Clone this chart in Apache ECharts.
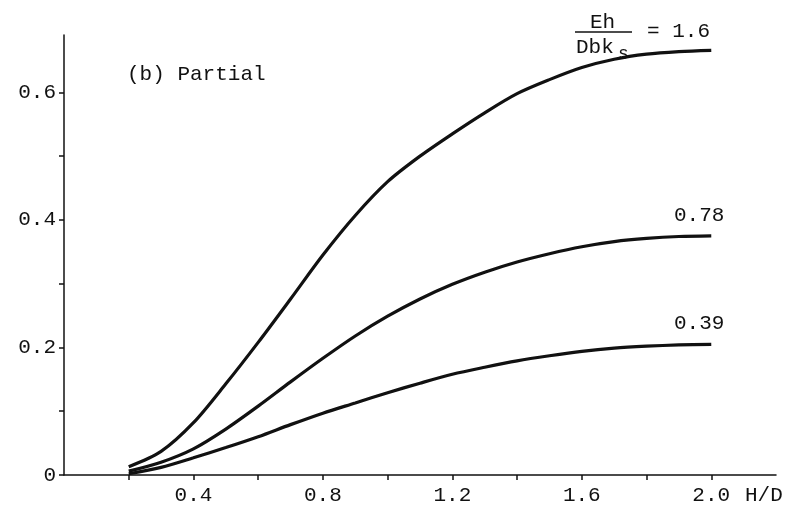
<!DOCTYPE html>
<html>
<head>
<meta charset="utf-8">
<script src="https://cdn.jsdelivr.net/npm/echarts@6/dist/echarts.min.js"></script>
<style>
  html, body { margin: 0; padding: 0; background: #fff; }
  #main { width: 790px; height: 513px; }
</style>
</head>
<body>
<div id="main"></div>
<script>
// H/D values where the curves were read
var hd = [0.2, 0.3, 0.4, 0.5, 0.6, 0.7, 0.8, 0.9, 1.0, 1.1, 1.2, 1.3, 1.4, 1.5, 1.6, 1.7, 1.8, 1.9, 2.0];
// Eh/(Dbks) = 1.6
var curve16 = [0.013, 0.037, 0.082, 0.143, 0.208, 0.276, 0.345, 0.407, 0.460, 0.500, 0.535, 0.568, 0.598, 0.620, 0.639, 0.652, 0.660, 0.664, 0.666];
// Eh/(Dbks) = 0.78
var curve078 = [0.006, 0.020, 0.041, 0.072, 0.108, 0.146, 0.183, 0.218, 0.249, 0.276, 0.299, 0.318, 0.334, 0.347, 0.358, 0.366, 0.371, 0.374, 0.375];
// Eh/(Dbks) = 0.39
var curve039 = [0.002, 0.012, 0.027, 0.043, 0.060, 0.079, 0.097, 0.113, 0.129, 0.144, 0.158, 0.169, 0.179, 0.187, 0.194, 0.199, 0.202, 0.204, 0.205];

var xTicks = [0.2, 0.4, 0.6, 0.8, 1.0, 1.2, 1.4, 1.6, 1.8, 2.0];
var xLabels = [0.4, 0.8, 1.2, 1.6, 2.0];
var yTicks = [0, 0.1, 0.2, 0.3, 0.4, 0.5, 0.6];
var yLabels = [0, 0.2, 0.4, 0.6];

function pairs(ys) {
  return hd.map(function (x, i) { return [x, ys[i]]; });
}

var font = '"Liberation Mono", "DejaVu Sans Mono", monospace';
var ink = '#111';

var chart = echarts.init(document.getElementById('main'));

function lineSeries(ys) {
  return {
    type: 'line',
    data: pairs(ys),
    smooth: 0.3,
    showSymbol: false,
    lineStyle: { color: ink, width: 3.2 }
  };
}

var option = {
  backgroundColor: '#fff',
  animation: false,
  grid: { left: 64, right: 14, top: 35, bottom: 38 },
  xAxis: {
    type: 'value',
    min: 0,
    max: 2.2,
    axisLine: { lineStyle: { color: ink, width: 1.5 } },
    axisTick: { length: 5, lineStyle: { color: ink, width: 1.5 }, customValues: xTicks },
    axisLabel: {
      customValues: xLabels,
      margin: 10,
      color: ink,
      fontFamily: font,
      fontSize: 21,
      formatter: function (v) { return v.toFixed(1); }
    },
    splitLine: { show: false }
  },
  yAxis: {
    type: 'value',
    min: 0,
    max: 0.69,
    axisLine: { show: true, lineStyle: { color: ink, width: 1.5 } },
    axisTick: { show: true, length: 5, lineStyle: { color: ink, width: 1.5 }, customValues: yTicks },
    axisLabel: {
      customValues: yLabels,
      margin: 8,
      color: ink,
      fontFamily: font,
      fontSize: 21,
      formatter: function (v) { return v === 0 ? '0' : v.toFixed(1); }
    },
    splitLine: { show: false }
  },
  series: [lineSeries(curve16), lineSeries(curve078), lineSeries(curve039)],
  graphic: [
    { type: 'text', left: 127, top: 64, style: { text: '(b) Partial', font: '21px ' + font, fill: ink } },
    { type: 'text', left: 745, top: 485, style: { text: 'H/D', font: '21px ' + font, fill: ink } },
    // Eh / Dbk_s = 1.6
    { type: 'text', left: 590, top: 12, style: { text: 'Eh', font: '21px ' + font, fill: ink } },
    { type: 'line', shape: { x1: 575, y1: 32, x2: 632, y2: 32 }, style: { stroke: ink, lineWidth: 1.5 } },
    { type: 'text', left: 576, top: 37, style: { text: 'Dbk', font: '21px ' + font, fill: ink } },
    { type: 'text', left: 618, top: 45, style: { text: 's', font: '18px ' + font, fill: ink } },
    { type: 'text', left: 647, top: 21, style: { text: '= 1.6', font: '21px ' + font, fill: ink } },
    { type: 'text', left: 674, top: 205, style: { text: '0.78', font: '21px ' + font, fill: ink } },
    { type: 'text', left: 674, top: 313, style: { text: '0.39', font: '21px ' + font, fill: ink } }
  ]
};

chart.setOption(option);
</script>
</body>
</html>
